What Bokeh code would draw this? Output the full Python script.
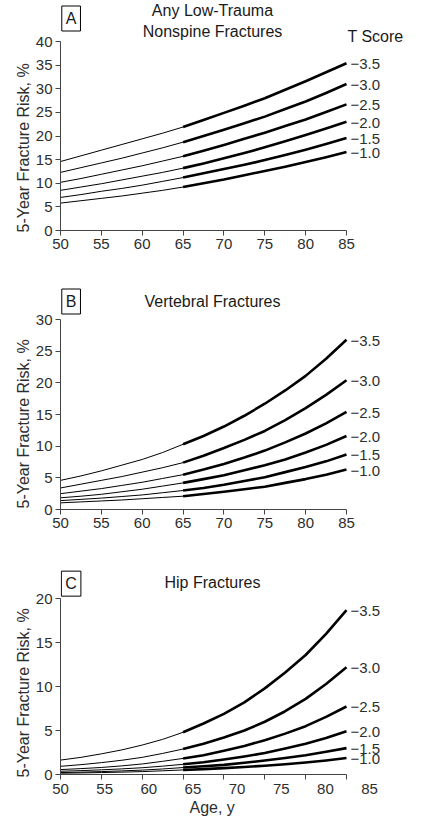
from bokeh.plotting import figure
from bokeh.models import (Range1d, FixedTicker, Label, LabelSet, ColumnDataSource,
                          LinearAxis, Title)
from bokeh.layouts import column
from bokeh.embed import file_html
from bokeh.resources import INLINE
from bokeh.core.properties import value

# ---------------- data ----------------
ages = [50, 52.5, 55, 57.5, 60, 62.5, 65, 67.5, 70, 72.5, 75, 77.5, 80, 82.5, 85]
x_ticks = [50, 55, 60, 65, 70, 75, 80, 85]
t_scores = ["\u22123.5", "\u22123.0", "\u22122.5", "\u22122.0", "\u22121.5", "\u22121.0"]

# A: any low-trauma nonspine fractures (T score -3.5 ... -1.0)
a_t35 = [14.6, 15.8, 17.0, 18.2, 19.4, 20.6, 21.9, 23.4, 24.9, 26.4, 28.0, 29.8, 31.6, 33.5, 35.4]
a_t30 = [12.3, 13.3, 14.3, 15.3, 16.4, 17.5, 18.7, 20.0, 21.3, 22.7, 24.1, 25.7, 27.3, 29.1, 31.0]
a_t25 = [10.2, 11.0, 11.9, 12.8, 13.7, 14.7, 15.7, 16.9, 18.1, 19.4, 20.7, 22.1, 23.5, 25.1, 26.7]
a_t20 = [8.5, 9.2, 9.9, 10.7, 11.5, 12.3, 13.2, 14.2, 15.3, 16.4, 17.6, 18.9, 20.2, 21.6, 23.0]
a_t15 = [7.0, 7.6, 8.3, 8.9, 9.6, 10.4, 11.2, 12.1, 13.0, 13.9, 14.9, 16.0, 17.1, 18.3, 19.6]
a_t10 = [5.8, 6.3, 6.8, 7.3, 7.9, 8.5, 9.2, 10.0, 10.8, 11.7, 12.6, 13.5, 14.5, 15.5, 16.6]

# B: vertebral fractures
b_t35 = [4.6, 5.3, 6.1, 7.0, 7.9, 9.0, 10.3, 11.6, 13.1, 14.8, 16.7, 18.8, 21.1, 23.8, 26.8]
b_t30 = [3.4, 4.0, 4.6, 5.2, 5.9, 6.6, 7.4, 8.5, 9.7, 11.0, 12.4, 14.1, 16.0, 18.1, 20.4]
b_t25 = [2.5, 2.9, 3.3, 3.8, 4.3, 4.9, 5.5, 6.3, 7.2, 8.2, 9.3, 10.6, 12.0, 13.6, 15.4]
b_t20 = [1.85, 2.1, 2.4, 2.8, 3.2, 3.7, 4.2, 4.8, 5.4, 6.2, 7.0, 7.9, 9.0, 10.2, 11.6]
b_t15 = [1.4, 1.6, 1.8, 2.05, 2.3, 2.65, 3.0, 3.4, 3.9, 4.5, 5.1, 5.9, 6.7, 7.6, 8.7]
b_t10 = [1.05, 1.2, 1.35, 1.5, 1.7, 1.9, 2.1, 2.45, 2.8, 3.2, 3.6, 4.2, 4.8, 5.5, 6.3]

# C: hip fractures
c_t35 = [1.64, 1.95, 2.35, 2.8, 3.35, 4.0, 4.8, 5.8, 6.9, 8.2, 9.8, 11.6, 13.6, 16.0, 18.7]
c_t30 = [0.93, 1.12, 1.35, 1.62, 1.95, 2.4, 2.9, 3.5, 4.2, 5.0, 6.0, 7.2, 8.6, 10.3, 12.2]
c_t25 = [0.56, 0.67, 0.8, 0.98, 1.2, 1.5, 1.83, 2.2, 2.7, 3.25, 3.9, 4.65, 5.5, 6.55, 7.74]
c_t20 = [0.37, 0.44, 0.53, 0.64, 0.77, 0.95, 1.16, 1.4, 1.7, 2.05, 2.45, 2.95, 3.5, 4.15, 4.93]
c_t15 = [0.22, 0.27, 0.33, 0.41, 0.5, 0.63, 0.79, 0.93, 1.1, 1.33, 1.6, 1.88, 2.2, 2.58, 3.0]
c_t10 = [0.15, 0.18, 0.22, 0.27, 0.33, 0.42, 0.52, 0.61, 0.72, 0.85, 1.0, 1.17, 1.37, 1.6, 1.87]

a_ticks = [0, 5, 10, 15, 20, 25, 30, 35, 40]
b_ticks = [0, 5, 10, 15, 20, 25, 30]
c_ticks = [0, 5, 10, 15, 20]

# ---------------- style ----------------
FONT = "Liberation Sans"
TXT = "#2e2e2e"
AX = "#444444"
DY = -1                 # pixel nudge for annotation texts
SPLIT = ages.index(65)  # thin before age 65, thick after
X_END = 92.955          # frame extends to the right for the T-score labels
LAB_END = 89.75         # panel C tick labels sit on a slightly wider scale


def style_axis(ax, size="15px"):
    ax.axis_line_color = AX
    ax.axis_line_width = 1
    ax.major_tick_line_color = AX
    ax.major_tick_in = 0
    ax.major_tick_out = 5
    ax.minor_tick_line_color = None
    ax.major_label_text_font = FONT
    ax.major_label_text_font_size = size
    ax.major_label_text_color = TXT
    ax.major_label_standoff = 3


def make_panel(letter, series, ymax, ytop, yticks, height, bbottom,
               title_lines, letter_y, ylab_offset):
    p = figure(width=411, height=height, x_range=Range1d(50, X_END),
               y_range=Range1d(0, ytop), output_backend="svg",
               toolbar_location=None, min_border_left=60, min_border_right=0,
               min_border_top=0, min_border_bottom=bbottom)
    p.outline_line_color = None
    p.grid.visible = False
    p.background_fill_color = "white"
    p.border_fill_color = "white"

    style_axis(p.xaxis[0])
    style_axis(p.yaxis[0])
    p.xaxis.ticker = FixedTicker(ticks=x_ticks)
    p.xaxis.bounds = (50, 85)
    p.yaxis.ticker = FixedTicker(ticks=yticks)
    p.yaxis.bounds = (0, ymax)
    p.add_layout(Title(text="5-Year Fracture Risk, %", align="left",
                       offset=ylab_offset, standoff=2, text_font=FONT,
                       text_font_size="16px", text_font_style="normal",
                       text_color=TXT), "left")

    for s in series:
        p.line(ages[:SPLIT + 1], s[:SPLIT + 1], line_color="black", line_width=1)
        p.line(ages[SPLIT:], s[SPLIT:], line_color="black", line_width=2.6,
               line_join="round")

    src = ColumnDataSource(dict(x=[ages[-1]] * len(series),
                                y=[s[-1] for s in series], t=t_scores))
    p.add_layout(LabelSet(x="x", y="y", text="t", source=src, x_offset=4,
                          y_offset=DY, text_font=value(FONT),
                          text_font_size="15px", text_color=TXT,
                          text_baseline="middle", text_align="left"))

    for txt, ty in title_lines:
        p.add_layout(Label(x=68.6, y=ty, y_offset=DY, text=txt, text_font=FONT,
                           text_font_size="16px", text_color="#1a1a1a",
                           text_align="center", text_baseline="middle"))
    p.add_layout(Label(x=51.3, y=letter_y, y_offset=DY, text=letter,
                       text_font=FONT, text_font_size="16px",
                       text_color="#1a1a1a", text_align="center",
                       text_baseline="middle", border_line_color="black",
                       border_line_width=1, background_fill_color="white",
                       padding=4))
    return p


pA = make_panel("A", [a_t35, a_t30, a_t25, a_t20, a_t15, a_t10], 40, 48.68,
                a_ticks, 266, 36,
                [("Any Low-Trauma", 46.67), ("Nonspine Fractures", 42.33)],
                45.08, -2)
pA.add_layout(Label(x=85, y=41.27, x_offset=1, y_offset=DY, text="T Score",
                    text_font=FONT, text_font_size="16px", text_color="#1a1a1a",
                    text_align="left", text_baseline="middle"))

pB = make_panel("B", [b_t35, b_t30, b_t25, b_t20, b_t15, b_t10], 30, 38.37,
                b_ticks, 278, 35, [("Vertebral Fractures", 33.08)], 33.0, 1)

pC = make_panel("C", [c_t35, c_t30, c_t25, c_t20, c_t15, c_t10], 20, 26.17,
                c_ticks, 272, 42, [("Hip Fractures", 22.0)], 21.83, -3)
# panel C: tick marks only on the main axis (as minor ticks, so no labels),
# labels on a second, wider-scaled axis
main_x = pC.xaxis[0]
main_x.ticker = FixedTicker(ticks=[], minor_ticks=x_ticks)
main_x.minor_tick_line_color = AX
main_x.minor_tick_in = 0
main_x.minor_tick_out = 5
main_x.major_label_standoff = 0
pC.extra_x_ranges = {"lab": Range1d(50, LAB_END)}
lab_axis = LinearAxis(x_range_name="lab", ticker=FixedTicker(ticks=x_ticks),
                      bounds=(50, 85), axis_line_color=None,
                      major_tick_line_color=None, major_tick_in=0,
                      major_tick_out=0, minor_tick_line_color=None,
                      major_label_text_font=FONT, major_label_text_font_size="15px",
                      major_label_text_color=TXT, major_label_standoff=4)
pC.add_layout(lab_axis, "below")
pC.add_layout(Title(text="Age, y", align="left", offset=129, standoff=0,
                    text_font=FONT, text_font_size="16px",
                    text_font_style="normal", text_color=TXT), "below")

layout = column(pA, pB, pC, spacing=0)
open("out.html", "w").write(file_html(layout, INLINE))
